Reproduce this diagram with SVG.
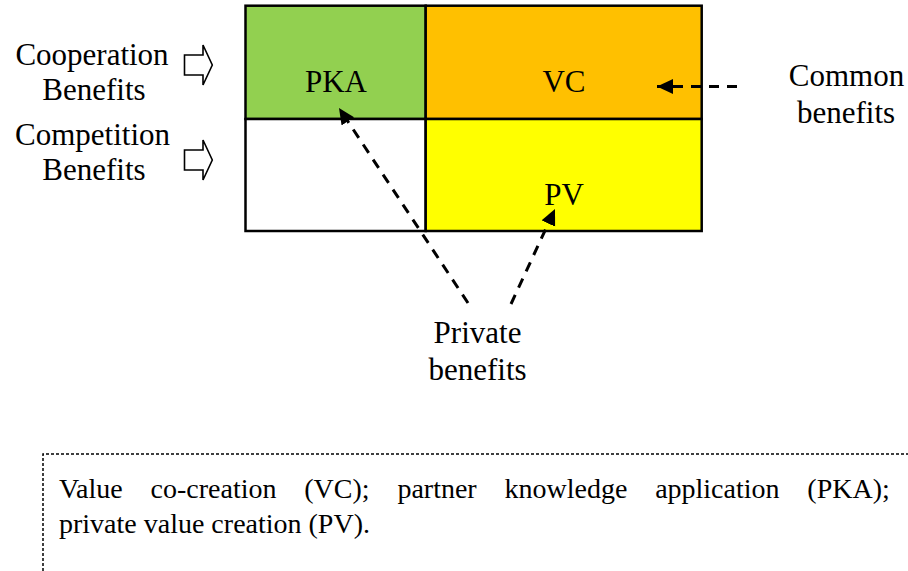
<svg xmlns="http://www.w3.org/2000/svg" width="908" height="571" viewBox="0 0 908 571">
  <style>
    text { font-family: "Times New Roman", "Liberation Serif", Tinos, serif; fill: #000; }
    .lbl { font-size: 31px; }
    .mid { text-anchor: middle; }
    .note { font-size: 28px; }
    .cell { stroke: #000; stroke-width: 2.5; }
    .block { fill: #fff; stroke: #000; stroke-width: 1.6; stroke-linejoin: miter; }
    .dash { fill: none; stroke: #000; stroke-width: 3; stroke-dasharray: 10 8; }
    .frame { fill: none; stroke: #000; stroke-width: 1.5; stroke-dasharray: 3 2; }
  </style>
  <defs>
    <marker id="head" markerUnits="userSpaceOnUse" markerWidth="18" markerHeight="16" refX="16" refY="7.5" orient="auto">
      <path d="M0,0 L16,7.5 L0,15 z" fill="#000"/>
    </marker>
  </defs>

  <rect width="908" height="571" fill="#fff"/>

  <!-- quadrant matrix -->
  <g id="pka">
    <rect class="cell" x="245.5" y="5.7" width="180.2" height="113.3" fill="#92D050"/>
    <text class="lbl mid" x="336" y="92">PKA</text>
  </g>
  <g id="vc">
    <rect class="cell" x="425.7" y="5.7" width="276" height="113.3" fill="#FFC000"/>
    <text class="lbl mid" x="564" y="92">VC</text>
  </g>
  <g id="empty-cell">
    <rect class="cell" x="245.5" y="119" width="180.2" height="112" fill="#fff"/>
  </g>
  <g id="pv">
    <rect class="cell" x="425.7" y="119" width="276" height="112" fill="#FFFF00"/>
    <text class="lbl mid" x="564" y="205">PV</text>
  </g>

  <!-- side labels -->
  <g id="cooperation">
    <text class="lbl mid" x="92" y="65">Cooperation</text>
    <text class="lbl mid" x="94" y="100">Benefits</text>
  </g>
  <g id="competition">
    <text class="lbl mid" x="92.5" y="145">Competition</text>
    <text class="lbl mid" x="94" y="180">Benefits</text>
  </g>
  <g id="common">
    <text class="lbl mid" x="846.5" y="86">Common</text>
    <text class="lbl mid" x="846" y="123">benefits</text>
  </g>
  <g id="private">
    <text class="lbl mid" x="477.5" y="343">Private</text>
    <text class="lbl mid" x="477.5" y="380">benefits</text>
  </g>

  <!-- connectors -->
  <g id="connectors">
    <polygon class="block" points="184.5,55 203,55 203,45 212.3,65 203,85 203,75 184.5,75"/>
    <polygon class="block" points="184.5,150 203,150 203,140 212.3,160 203,180 203,170 184.5,170"/>
    <line class="dash" x1="737" y1="86.5" x2="657" y2="86.5" marker-end="url(#head)"/>
    <line class="dash" x1="468" y1="303" x2="339" y2="108" marker-end="url(#head)"/>
    <line class="dash" x1="511" y1="304" x2="555" y2="209" marker-end="url(#head)"/>
  </g>

  <!-- legend -->
  <g id="legend">
    <path class="frame" d="M43,571 L43,454 L908,454"/>
    <text class="note" x="59" y="498" word-spacing="20.8">Value co-creation (VC); partner knowledge application (PKA);</text>
    <text class="note" x="59" y="533">private value creation (PV).</text>
  </g>
</svg>
